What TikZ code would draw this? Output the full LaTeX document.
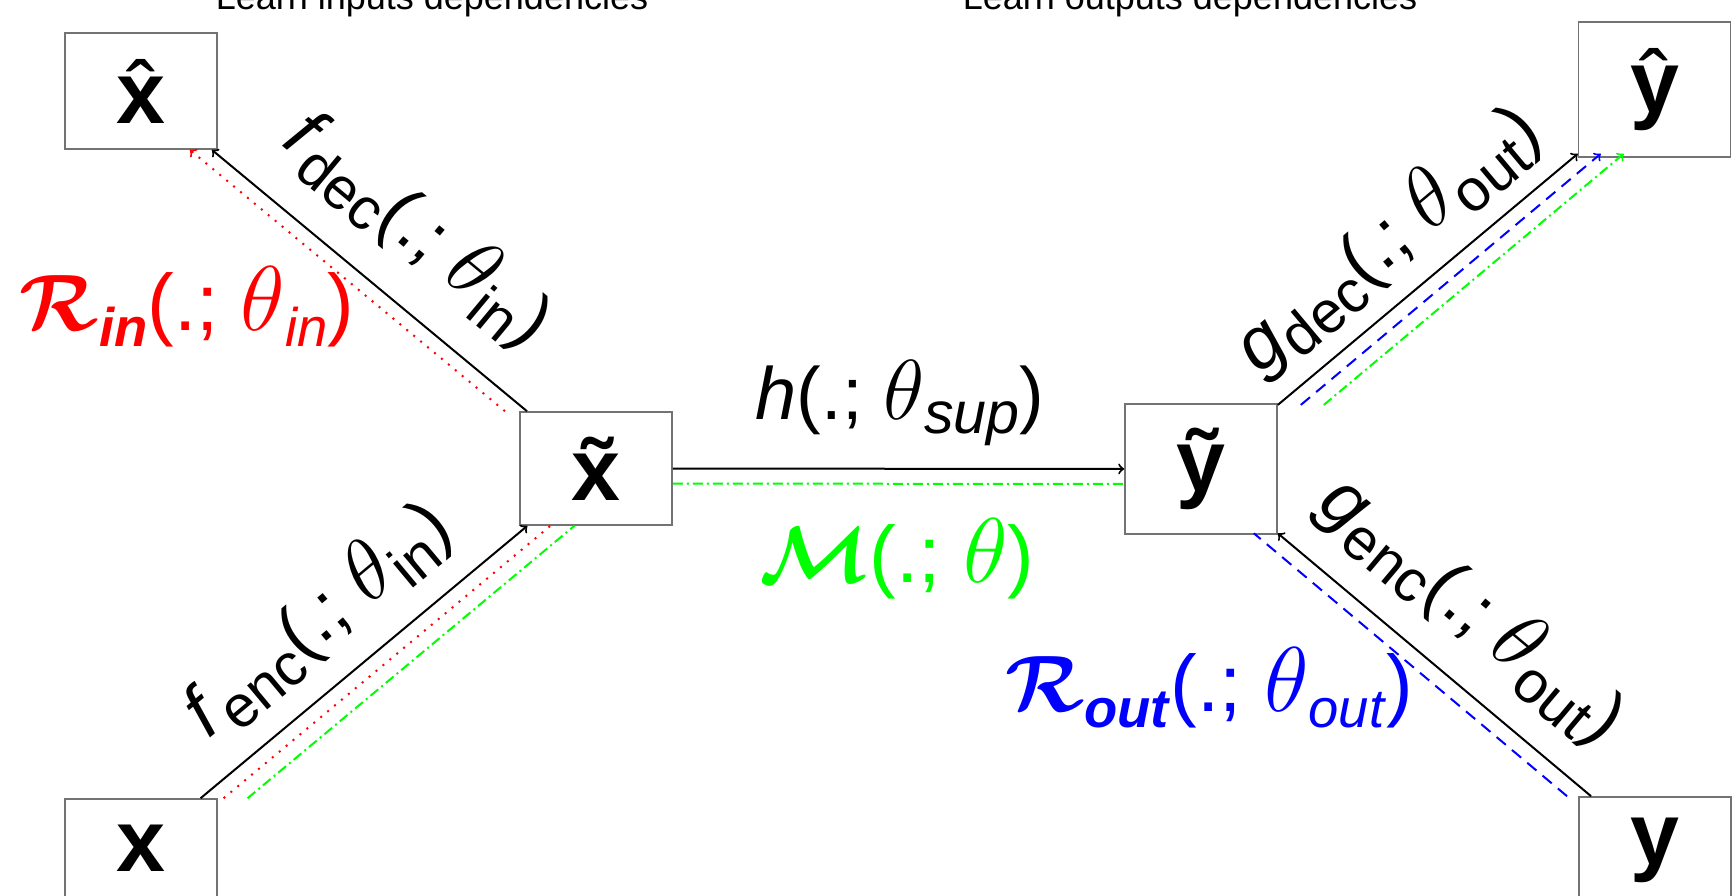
\RequirePackage{fix-cm}
\documentclass[tikz,border=0pt]{standalone}
\usepackage{amsmath}
\usepackage{graphicx}
\usepackage{fontspec}
\setmainfont{Liberation Sans}

\definecolor{rinred}{RGB}{255,0,0}
\definecolor{mgreen}{RGB}{0,255,0}
\definecolor{routblue}{RGB}{0,0,255}

\newcommand{\lsub}[2][0.8]{\raisebox{-0.2em}{\scalebox{#1}{#2}}}
\newcommand{\thet}{\scalebox{1.15}{$\theta$}}
\newcommand{\hatof}[1]{\ooalign{\hidewidth{\mdseries\char"02C6}\hidewidth\cr#1\cr}}
\newcommand{\tildeof}[1]{\ooalign{\hidewidth\char"02DC\hidewidth\cr#1\cr}}

\tikzset{
  box/.style={draw=black!55, line width=0.8pt, minimum width=76pt, inner sep=0pt,
    font=\fontsize{44}{48}\selectfont\bfseries},
  lbl/.style={inner sep=0pt, font=\fontsize{37}{42}\selectfont},
  clbl/.style={inner sep=0pt, font=\fontsize{40}{44}\selectfont},
  link/.style={->, line width=1pt},
  rin/.style={rinred, line width=1pt, dash pattern=on 1pt off 3.5pt},
  mpath/.style={mgreen, line width=1pt, dash pattern=on 5pt off 2pt on 1pt off 2pt},
  rout/.style={routblue, line width=1pt, dash pattern=on 6pt off 4pt},
}

\begin{document}
\begin{tikzpicture}[x=0.5pt, y=-0.5pt]
  \useasboundingbox (0,0) rectangle (1733,895);
  \node[anchor=base, font=\fontsize{18}{22}\selectfont] (inhead) at (432,9) {Learn inputs dependencies};
  \node[anchor=base, font=\fontsize{18}{22}\selectfont] (outhead) at (1190,9) {Learn outputs dependencies};

  \node[box, minimum height=58pt] (xhat) at (141,91) {\hatof{x}};
  \node[box, minimum height=49pt] (x) at (141,848) {x};
  \node[box, minimum height=56.5pt] (xt) at (596,468.5) {\tildeof{x}};
  \node[box, minimum height=65pt] (yt) at (1201,469) {\tildeof{y}};
  \node[box, minimum height=67.5pt] (yhat) at (1654.5,89.5) {\hatof{y}};
  \node[box, minimum height=53pt] (y) at (1655,850) {y};

  \draw[link] (x) -- (xt);
  \draw[link] (xt) -- (xhat);
  \draw[link] (xt) -- (yt);
  \draw[link] (yt) -- (yhat);
  \draw[link] (y) -- (yt);

  \draw[rin, transform canvas={xshift=11.5pt}] (x) -- (xt);
  \draw[rin, ->, transform canvas={xshift=-11pt}] (xt) -- (xhat);
  \draw[mpath, transform canvas={xshift=23.5pt}] (x) -- (xt);
  \draw[mpath, transform canvas={yshift=-7.5pt}] (xt) -- (yt);
  \draw[mpath, ->, transform canvas={xshift=23pt}] (yt) -- (yhat);
  \draw[rout, ->, transform canvas={xshift=11.5pt}] (yt) -- (yhat);
  \draw[rout, transform canvas={xshift=-12pt}] (y) -- (yt);

  \node[lbl, rotate=-39.7] (fdec) at (418,230) {\textit{f}\lsub{dec}(.;\;\thet\lsub{in})};
  \node[lbl, rotate=39.8] (fenc) at (318,620) {\textit{f}\lsub{enc}(.;\;\thet\lsub{in})};
  \node[lbl] (hsup) at (900,403) {\textit{h}(.;\;\thet\lsub{\textit{sup}})};
  \node[lbl, rotate=39.9] (gdec) at (1388,240) {\textit{g}\lsub{dec}(.;\;\thet\lsub{out})};
  \node[lbl, rotate=-40] (genc) at (1472,610) {\textit{g}\lsub{enc}(.;\;\thet\lsub{out})};
  \node[clbl, rinred] (rinlbl) at (187,307) {$\boldsymbol{\mathcal{R}}$\lsub[0.68]{\textbf{\textit{in}}}(.;\;\thet\lsub[0.68]{\textit{in}})};
  \node[clbl, mgreen] (mlbl) at (897,559) {$\boldsymbol{\mathcal{M}}$(.;\;\thet)};
  \node[clbl, routblue] (routlbl) at (1209,688) {$\boldsymbol{\mathcal{R}}$\lsub[0.68]{\textbf{\textit{out}}}(.;\;\thet\lsub[0.68]{\textit{out}})};
\end{tikzpicture}
\end{document}
